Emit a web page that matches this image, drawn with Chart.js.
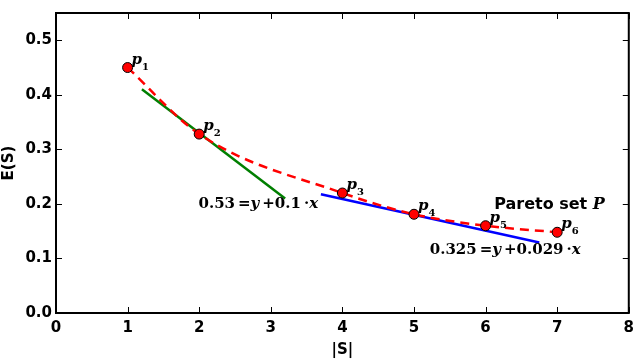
<!DOCTYPE html>
<html>
<head>
<meta charset="utf-8">
<script src="https://cdn.jsdelivr.net/npm/chart.js@4.4.1/dist/chart.umd.min.js"></script>
<style>
  html, body { margin: 0; padding: 0; background: #fff; overflow: hidden; }
</style>
</head>
<body>
<canvas id="myChart" width="640" height="361"></canvas>
<script>
// data
const sizes = [1, 2, 4, 5, 6, 7];
const errors = [0.45, 0.328, 0.22, 0.181, 0.16, 0.148];
const pointNames = ['1', '2', '3', '4', '5', '6'];

const greenX = [1.2, 3.2];
const greenY = [0.41, 0.21];
const blueX = [3.7, 6.75];
const blueY = [0.2177, 0.1293];

const xTicks = [0, 1, 2, 3, 4, 5, 6, 7, 8];
const yTicks = [0, 0.1, 0.2, 0.3, 0.4, 0.5];

// text notes: [x, y, runs]
const serif = 'bold 15px "DejaVu Serif"';
const serifIt = 'italic bold 15px "DejaVu Serif"';
const notes = [
  [1.99, 0.199, [['0.53', serif], ['\u2009=', serif], ['y', serifIt], ['\u2009+', serif], ['0.1', serif], ['\u2009\u00b7', serif], ['x', serifIt]]],
  [6.12, 0.199, [['Pareto set ', 'bold 16px "DejaVu Sans"'], ['P', 'italic bold 16px "DejaVu Serif"']]],
  [5.22, 0.116, [['0.325', serif], ['\u2009=', serif], ['y', serifIt], ['\u2009+', serif], ['0.029', serif], ['\u2009\u00b7', serif], ['x', serifIt]]]
];

const toXY = (xs, ys) => xs.map((x, i) => ({ x: x, y: ys[i] }));

// inward ticks, box, point names and equations
const decorPlugin = {
  id: 'decor',
  afterDraw(chart) {
    const c = chart.ctx;
    const a = chart.chartArea;
    const xs = chart.scales.x, ys = chart.scales.y;
    c.save();
    c.strokeStyle = '#000';
    c.lineWidth = 2;
    c.strokeRect(a.left, a.top, a.right - a.left, a.bottom - a.top);
    c.lineWidth = 1;
    c.beginPath();
    xTicks.forEach(v => {
      const px = Math.round(xs.getPixelForValue(v)) + 0.5;
      c.moveTo(px, a.bottom); c.lineTo(px, a.bottom - 6);
      c.moveTo(px, a.top); c.lineTo(px, a.top + 6);
    });
    yTicks.forEach(v => {
      const py = Math.round(ys.getPixelForValue(v)) + 0.5;
      c.moveTo(a.left, py); c.lineTo(a.left + 6, py);
      c.moveTo(a.right, py); c.lineTo(a.right - 6, py);
    });
    c.stroke();

    c.fillStyle = '#000';
    c.textAlign = 'left';
    c.textBaseline = 'alphabetic';
    sizes.forEach((s, i) => {
      const px = xs.getPixelForValue(s);
      const py = ys.getPixelForValue(errors[i]);
      c.font = 'italic bold 15px "DejaVu Serif"';
      c.fillText('p', px + 4, py - 4);
      const w = c.measureText('p').width;
      c.font = 'bold 10px "DejaVu Serif"';
      c.fillText(pointNames[i], px + 4 + w, py + 2);
    });

    c.textBaseline = 'middle';
    notes.forEach(n => {
      let px = xs.getPixelForValue(n[0]);
      const py = ys.getPixelForValue(n[1]);
      n[2].forEach(r => {
        c.font = r[1];
        c.fillText(r[0], px, py);
        px += c.measureText(r[0]).width;
      });
    });
    c.restore();
  }
};

const tickFont = { family: 'DejaVu Sans', size: 15, weight: 'bold' };

new Chart(document.getElementById('myChart'), {
  type: 'scatter',
  data: {
    datasets: [
      {
        data: toXY(greenX, greenY),
        showLine: true,
        borderColor: '#007f00',
        borderWidth: 2.5,
        pointRadius: 0,
        order: 3
      },
      {
        data: toXY(blueX, blueY),
        showLine: true,
        borderColor: '#0000ff',
        borderWidth: 2.5,
        pointRadius: 0,
        order: 2
      },
      {
        data: toXY(sizes, errors),
        showLine: true,
        cubicInterpolationMode: 'monotone',
        borderColor: '#ff0000',
        borderWidth: 2.5,
        borderDash: [9, 6],
        pointRadius: 5,
        pointBackgroundColor: '#ff0000',
        pointBorderColor: '#000',
        pointBorderWidth: 1,
        order: 1
      }
    ]
  },
  options: {
    responsive: false,
    animation: false,
    devicePixelRatio: 1,
    layout: { padding: { top: 1, right: 6, left: 0, bottom: 0 } },
    plugins: {
      legend: { display: false },
      tooltip: { enabled: false }
    },
    scales: {
      x: {
        type: 'linear',
        min: 0, max: 8,
        afterBuildTicks: s => { s.ticks = xTicks.map(v => ({ value: v })); },
        afterFit: s => { s.height = 48; },
        grid: { display: false, drawTicks: false },
        border: { display: true, color: '#000', width: 2 },
        ticks: { font: tickFont, color: '#000', padding: 6, maxRotation: 0 },
        title: { display: true, text: '|S|', font: tickFont, color: '#000', padding: { top: 0, bottom: 2 } }
      },
      y: {
        type: 'linear',
        min: 0, max: 0.55,
        afterBuildTicks: s => { s.ticks = yTicks.map(v => ({ value: v })); },
        afterFit: s => { s.width = 56; },
        grid: { display: false, drawTicks: false },
        border: { display: true, color: '#000', width: 2 },
        ticks: { font: tickFont, color: '#000', padding: 4, callback: v => v.toFixed(1) },
        title: { display: true, text: 'E(S)', font: tickFont, color: '#000', padding: { top: 0, bottom: 0 } }
      }
    }
  },
  plugins: [decorPlugin]
});
</script>
</body>
</html>
